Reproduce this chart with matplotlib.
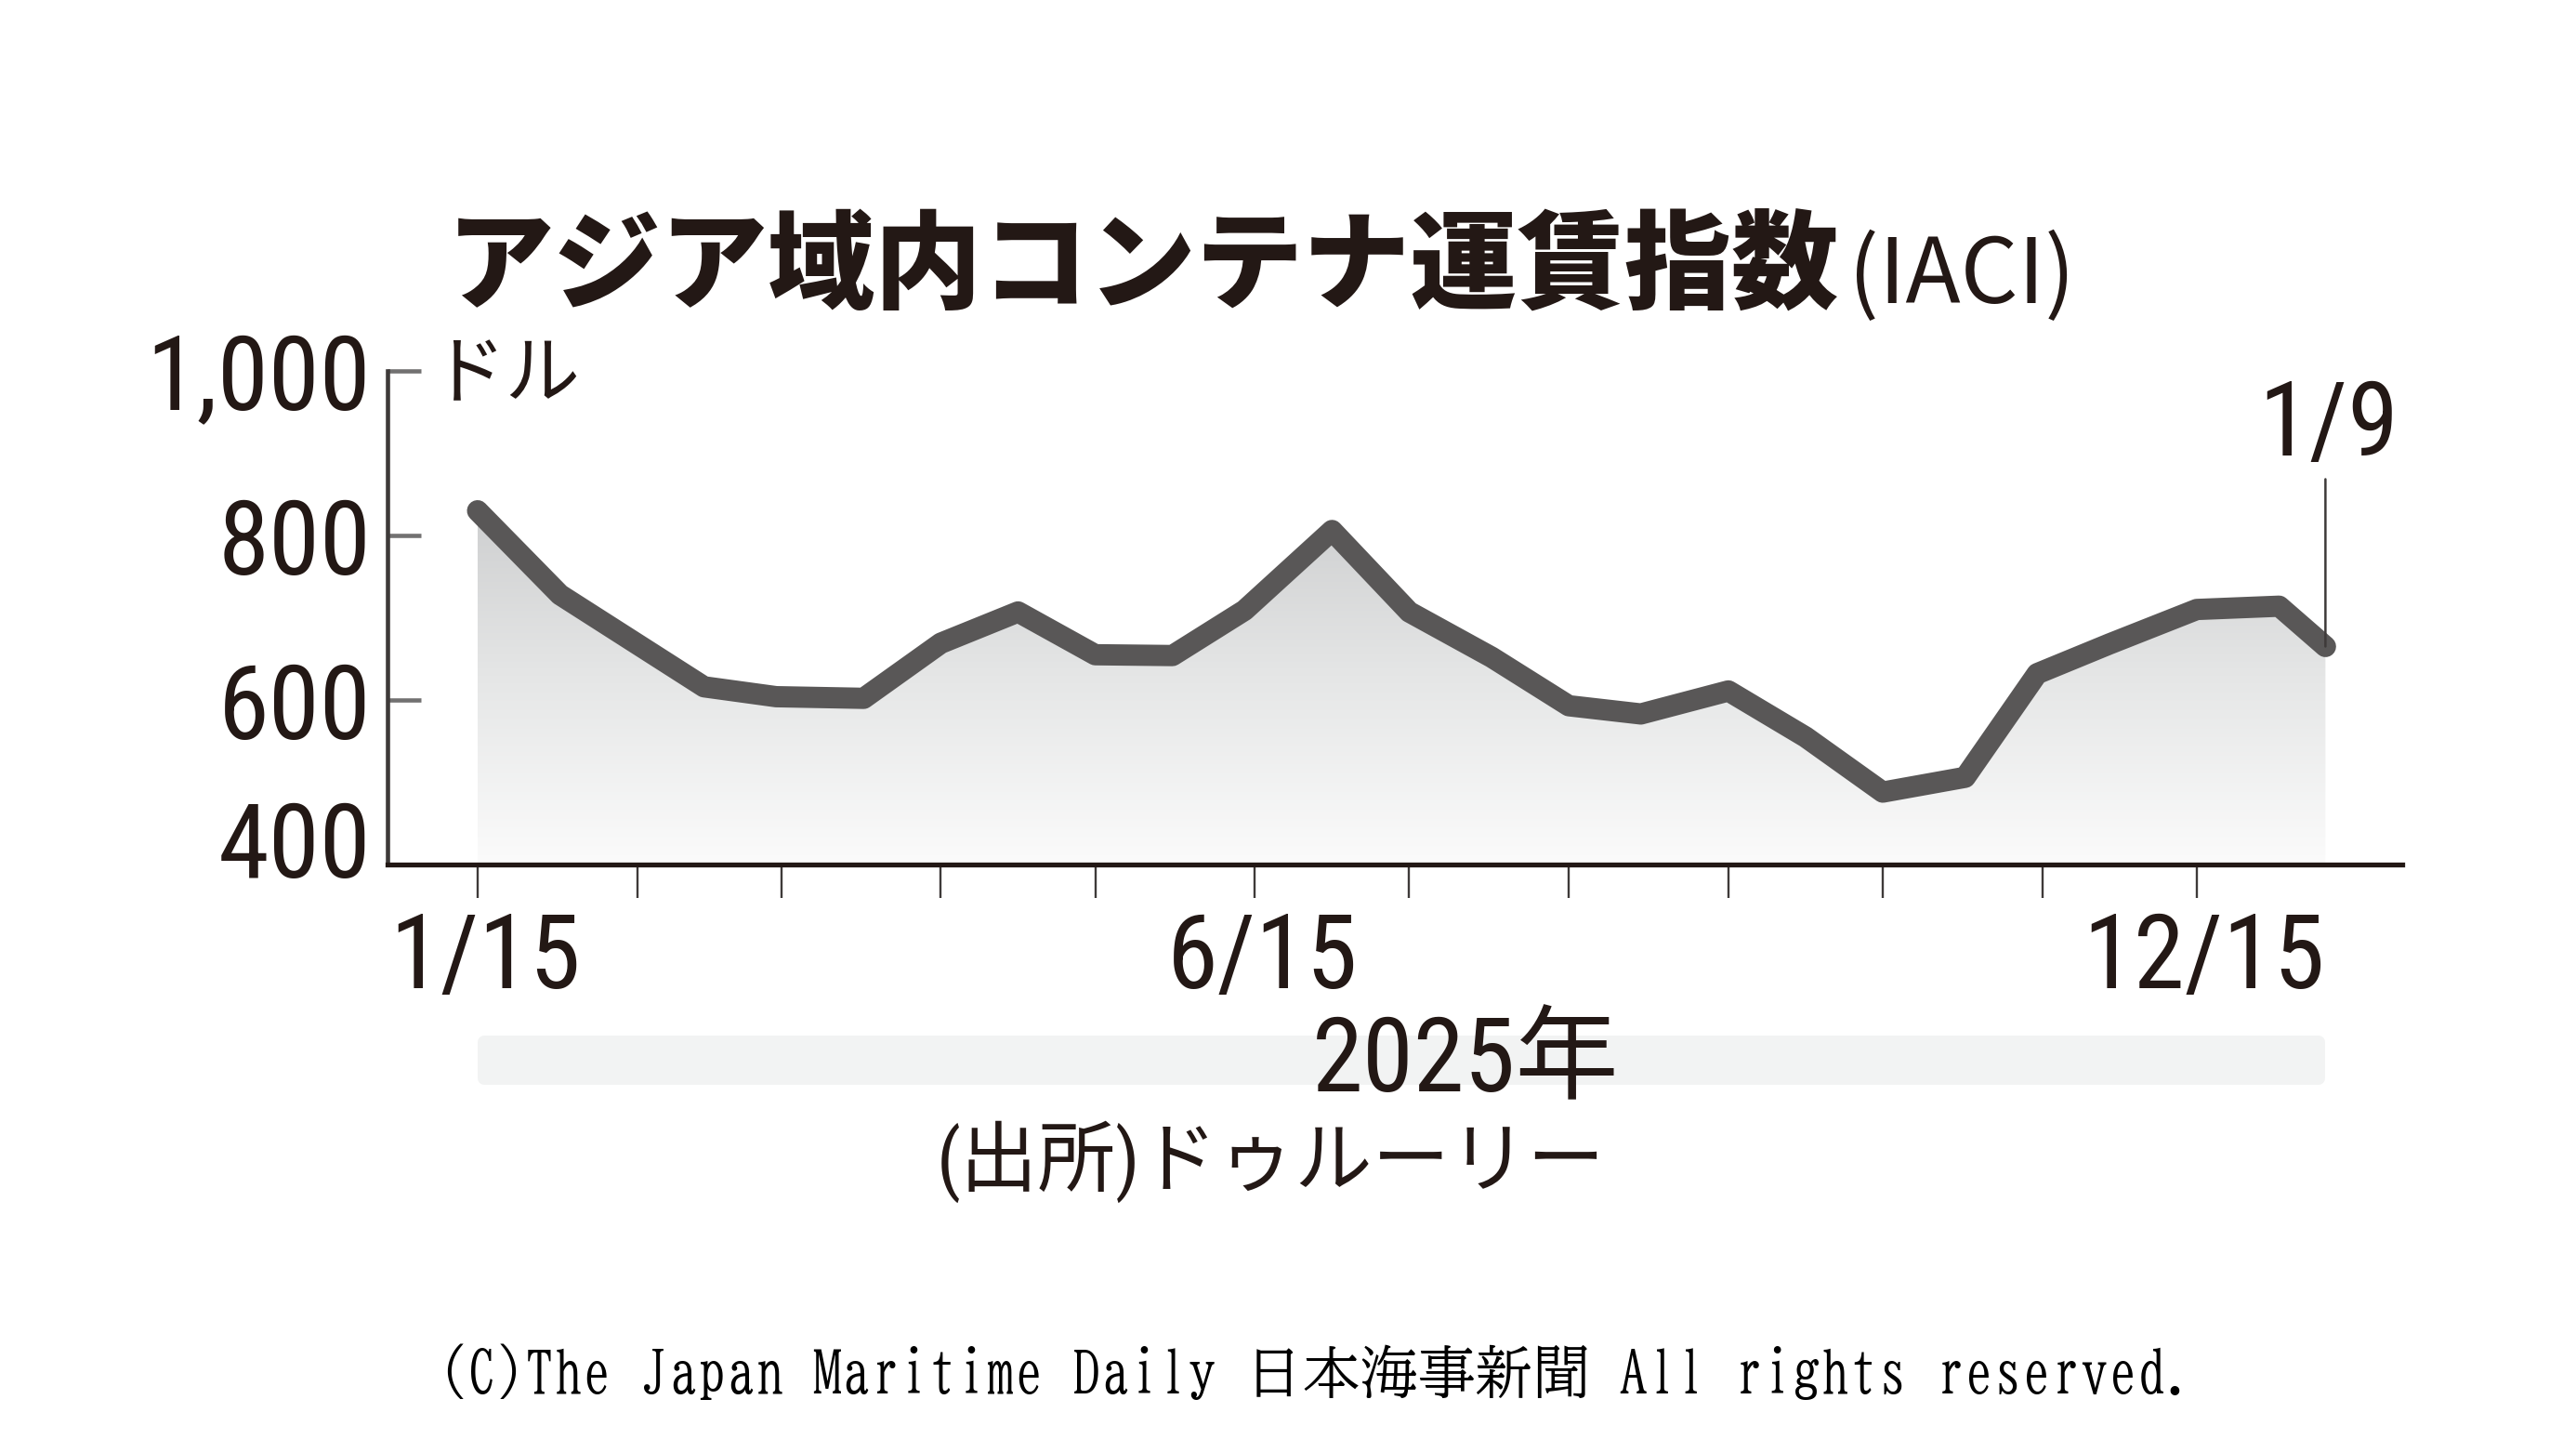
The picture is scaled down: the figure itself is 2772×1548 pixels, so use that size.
import matplotlib
matplotlib.use('Agg')
import matplotlib.pyplot as plt
import matplotlib.dates as mdates
from matplotlib import font_manager as fm
from matplotlib.transforms import ScaledTranslation, blended_transform_factory
from matplotlib.patches import Rectangle
from matplotlib.colors import LinearSegmentedColormap
import numpy as np
import pandas as pd

# ---------------- data ----------------
title_jp = 'アジア域内コンテナ運賃指数'
title_en = '(IACI)'
unit_label = 'ドル'
dates = ['2025-01-15', '2025-01-31', '2025-02-14', '2025-02-28', '2025-03-14',
         '2025-03-31', '2025-04-15', '2025-04-30', '2025-05-15', '2025-05-30',
         '2025-06-13', '2025-06-30', '2025-07-15', '2025-07-31', '2025-08-15',
         '2025-08-29', '2025-09-15', '2025-09-30', '2025-10-15', '2025-10-31',
         '2025-11-14', '2025-11-28', '2025-12-15', '2025-12-31', '2026-01-09']
values = [830, 728, 672, 616, 604, 602, 669, 707, 655, 654,
          709, 806, 707, 652, 593, 583, 611, 555, 488, 506,
          632, 668, 710, 714, 665]
y_ticks = [400, 600, 800, 1000]
y_tick_labels = ['400', '600', '800', '1,000']
x_tick_dates = ['2025-01-15', '2025-02-15', '2025-03-15', '2025-04-15',
                '2025-05-15', '2025-06-15', '2025-07-15', '2025-08-15',
                '2025-09-15', '2025-10-15', '2025-11-15', '2025-12-15']
x_tick_labels = ['1/15', '', '', '', '', '6/15', '', '', '', '', '', '12/15']
x_range = ['2024-12-28 12:00', '2026-01-23 22:00']
y_range = [400, 1000]
year_label = '2025年'
last_label = '1/9'
source_label = '(出所)ドゥルーリー'
footer = '(C)The Japan Maritime Daily 日本海事新聞 All rights reserved.'

# ---------------- fonts ----------------
_avail = {f.name for f in fm.fontManager.ttflist}

def pick(cands, default):
    for c in cands:
        if c in _avail:
            return c
    return default

COND = pick(['Roboto Condensed', 'Archivo Narrow', 'PT Sans Narrow',
             'Liberation Sans Narrow', 'Pragati Narrow', 'IBM Plex Sans Condensed'],
            'Noto Sans CJK JP')
MINCHO = pick(['BIZ UDMincho'], None)
NUM = [COND, 'Noto Sans CJK JP', 'DejaVu Sans']
CJK = ['Noto Sans CJK JP', 'DejaVu Sans']
if MINCHO:
    MONO = [MINCHO, 'Noto Sans CJK JP', 'DejaVu Sans']
    footer_size = 44.6
else:
    MONO = ['Liberation Mono', 'Noto Sans CJK JP', 'DejaVu Sans']
    footer_size = 38.5
narrow = COND != 'Noto Sans CJK JP'
num_size = 80 if narrow else 74
plt.rcParams['font.family'] = NUM
TXT = '#231815'
LINE = '#595757'

W, H = 2772, 1548
fig = plt.figure(figsize=(W / 100, H / 100), dpi=100, facecolor='white')

def fx(px):
    return px / W

def fy(py):
    return 1 - py / H

ax_left, ax_right, ax_top, ax_bot = 417, 2585, 399, 930
ax = fig.add_axes([fx(ax_left), fy(ax_bot), (ax_right - ax_left) / W, (ax_bot - ax_top) / H])
ax.set_facecolor('none')

xn = mdates.date2num(pd.to_datetime(dates))
vals = np.array(values, dtype=float)

# gradient area under the line
poly = ax.fill_between(xn, vals, y_range[0], facecolor='none', edgecolor='none', lw=0)
cmap = LinearSegmentedColormap.from_list('g', ['#fbfbfb', '#e6e7e7', '#cdcecf'])
grad = np.linspace(1, 0, 256).reshape(-1, 1)
im = ax.imshow(grad, cmap=cmap, vmin=0, vmax=1, origin='upper', aspect='auto',
               extent=[xn[0], xn[-1], y_range[0], vals.max() + 10], zorder=1,
               interpolation='bilinear')
im.set_clip_path(poly.get_paths()[0], transform=ax.transData)

ax.plot(xn, vals, color=LINE, lw=16.5, solid_capstyle='round',
        solid_joinstyle='round', zorder=3)

ax.set_xlim(mdates.date2num(pd.to_datetime(x_range)))
ax.set_ylim(y_range)

# axes styling
for s in ['top', 'right']:
    ax.spines[s].set_visible(False)
ax.spines['left'].set_color('#3e3a39')
ax.spines['left'].set_linewidth(3.3)
ax.spines['bottom'].set_color(TXT)
ax.spines['bottom'].set_linewidth(3.8)
ax.spines['bottom'].set_zorder(4)

ax.set_yticks(y_ticks)
ax.set_yticklabels(y_tick_labels)
ax.tick_params(axis='y', direction='in', length=26, width=3.3, color='#727171',
               pad=13, labelsize=num_size, labelcolor=TXT)
ax.set_xticks(mdates.date2num(pd.to_datetime(x_tick_dates)))
ax.set_xticklabels(x_tick_labels)
ax.tick_params(axis='x', direction='out', length=26, width=1.7, color='#3e3a39',
               pad=9, labelsize=num_size, labelcolor=TXT)
for lab in ax.get_yticklabels() + ax.get_xticklabels():
    lab.set_fontfamily(NUM)
# lift the lowest y label off the x axis
ylabs = ax.get_yticklabels()
ylabs[0].set_transform(ylabs[0].get_transform() + ScaledTranslation(0, 20 / 72, fig.dpi_scale_trans))
# nudge x labels slightly right, like the reference
for lab in ax.get_xticklabels():
    lab.set_transform(lab.get_transform() + ScaledTranslation(8 / 100, 0, fig.dpi_scale_trans))

# last-value annotation
ax.annotate('', xy=(xn[-1], vals[-1]), xytext=(0, 180), textcoords='offset pixels',
            arrowprops=dict(arrowstyle='-', color='#3e3a39', lw=1.8, shrinkA=0, shrinkB=0),
            zorder=5)
ax.annotate(last_label, xy=(xn[-1], vals[-1]), xytext=(3, 205), textcoords='offset pixels',
            ha='center', va='baseline', fontsize=num_size, color=TXT, family=NUM,
            annotation_clip=False)

# year bar under the axis (spans first to last data point)
tr = blended_transform_factory(ax.transData, fig.transFigure)
bar_pad = 7  # px, half of edge width -> rounded corners
ppd = (ax_right - ax_left) / (ax.get_xlim()[1] - ax.get_xlim()[0])
x0d = xn[0] + bar_pad / ppd
x1d = xn[-1] - bar_pad / ppd
bar = Rectangle((x0d, fy(1167 - bar_pad)), x1d - x0d, (1167 - 1114 - 2 * bar_pad) / H,
                transform=tr, facecolor='#f2f3f3', edgecolor='#f2f3f3', lw=10,
                joinstyle='round', clip_on=False, zorder=0)
fig.add_artist(bar)

# texts
fig.text(fx(481), fy(290), title_jp, family=CJK, weight='heavy', fontsize=83,
         color=TXT, ha='left', va='center')
fig.text(fx(1989), fy(298), title_en, family=CJK, fontsize=70,
         color=TXT, ha='left', va='center')
fig.text(fx(463), fy(404), unit_label, family=CJK, fontsize=58,
         color=TXT, ha='left', va='center')
fig.text(fx(1577), fy(1144), year_label, family=NUM, fontsize=num_size,
         color=TXT, ha='center', va='center')
fig.text(fx(1008), fy(1250), source_label, family=NUM, fontsize=60,
         color=TXT, ha='left', va='center')
fig.text(fx(1417), fy(1476), footer, family=MONO, fontsize=footer_size,
         color='black', ha='center', va='center')

fig.savefig('out.png', dpi=100, facecolor='white')
